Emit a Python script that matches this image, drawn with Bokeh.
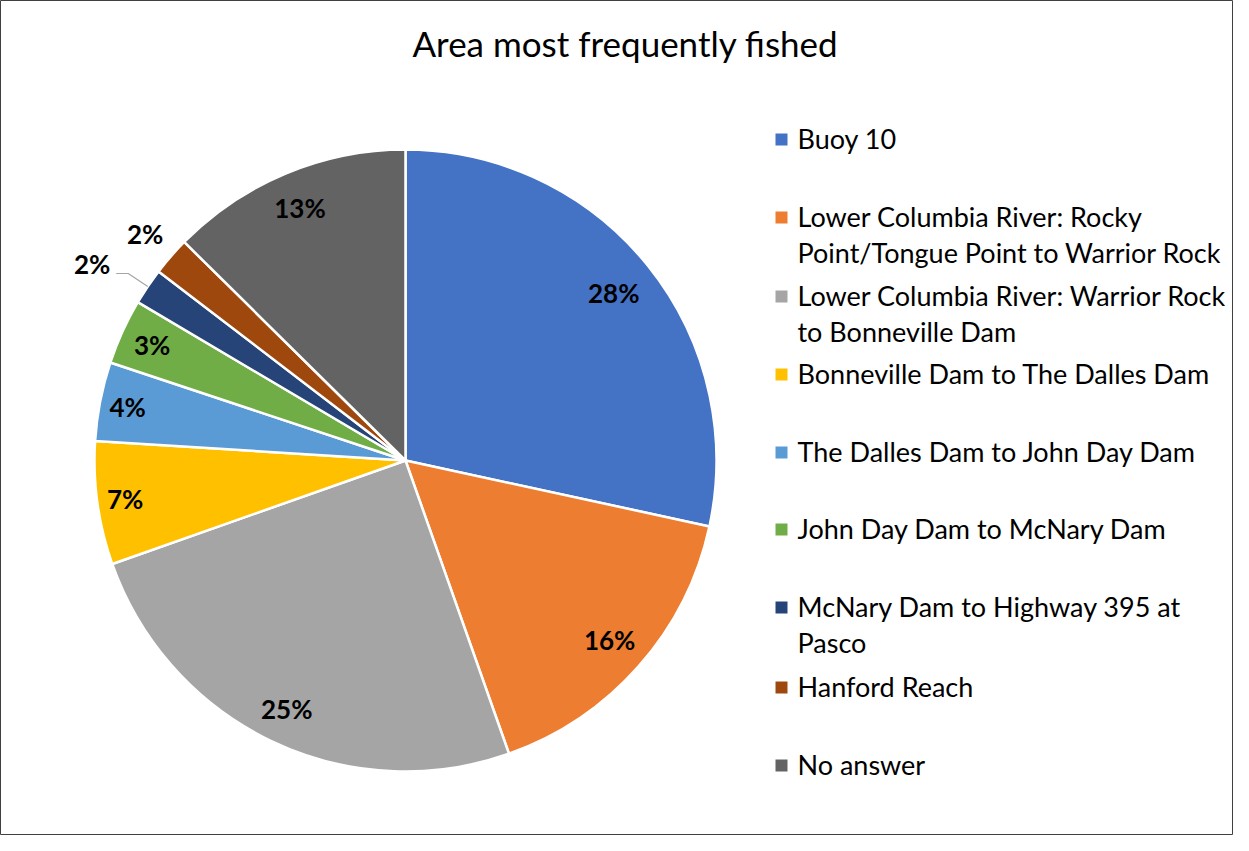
import math
from bokeh.plotting import figure
from bokeh.models import Range1d, ColumnDataSource
from bokeh.core.properties import value
from bokeh.embed import file_html
from bokeh.resources import INLINE

# ---- data ----
categories = [
    "Buoy 10",
    "Lower Columbia River: Rocky\nPoint/Tongue Point to Warrior Rock",
    "Lower Columbia River: Warrior Rock\nto Bonneville Dam",
    "Bonneville Dam to The Dalles Dam",
    "The Dalles Dam to John Day Dam",
    "John Day Dam to McNary Dam",
    "McNary Dam to Highway 395 at\nPasco",
    "Hanford Reach",
    "No answer",
]
shares = [28.4, 16.2, 25.0, 6.4, 4.1, 3.4, 1.9, 2.0, 12.6]
labels = ["28%", "16%", "25%", "7%", "4%", "3%", "2%", "2%", "13%"]
colors = ["#4472C4", "#ED7D31", "#A5A5A5", "#FFC000", "#5B9BD5",
          "#70AD47", "#264478", "#9E480E", "#636363"]
title = "Area most frequently fished"

# ---- layout (pixels) ----
W, H = 1233, 835
FONT = "Lato"
cx, cy, R = 405, 835 - 460, 311
label_r = [0.86, 0.875, 0.885, 0.91, 0.91, 0.895, 1.18, 1.11, 0.88]
legend_first_y = [138, 216, 295, 373, 451, 528, 606, 686, 764]  # picture y of first line
legend_line_gap = 36

def py(pic_y):
    return H - pic_y

p = figure(width=W, height=H, output_backend="svg", toolbar_location=None,
           x_range=Range1d(0, W), y_range=Range1d(0, H), min_border=0)
p.axis.visible = False
p.grid.visible = False
p.outline_line_color = "#404040"
p.outline_line_width = 1
p.background_fill_color = "white"

total = sum(shares)
starts, ends, mids = [], [], []
c = 0.0
for s in shares:
    a0 = math.pi / 2 - 2 * math.pi * c / total
    c += s
    a1 = math.pi / 2 - 2 * math.pi * c / total
    starts.append(a0); ends.append(a1); mids.append((a0 + a1) / 2)

src = ColumnDataSource(dict(start=starts, end=ends, color=colors))
p.wedge(x=cx, y=cy, radius=R, start_angle="start", end_angle="end",
        direction="clock", fill_color="color", line_color="white",
        line_width=2.5, source=src)

lx = [cx + R * f * math.cos(m) for f, m in zip(label_r, mids)]
ly = [cy + R * f * math.sin(m) for f, m in zip(label_r, mids)]

# leader line for the small navy slice; its label sits at the end of the line
i = 6
ex = cx + R * math.cos(mids[i]); ey = cy + R * math.sin(mids[i])
leader_x = [ex, ex - 19.5, ex - 31.5]
leader_y = [ey, ey + 13, ey + 13]
p.line(x=leader_x, y=leader_y, line_color="#A6A6A6", line_width=1.2)
lx[i] = leader_x[-1] - 24
ly[i] = leader_y[-1] + 10

p.text(x=lx, y=ly, text=labels, text_font=value(FONT), text_font_style="bold",
       text_font_size="26px", text_align="center", text_baseline="middle",
       text_color="black")

# title
p.text(x=[625], y=[py(42)], text=[title], text_font=value(FONT),
       text_font_size="35px", text_align="center", text_baseline="middle",
       text_color="black")

# legend
mx, my, tx, ty, tt = [], [], [], [], []
for cat, y0 in zip(categories, legend_first_y):
    mx.append(781); my.append(py(y0 + 1))
    for k, line in enumerate(cat.split("\n")):
        tx.append(797); ty.append(py(y0 + k * legend_line_gap)); tt.append(line)
p.scatter(x=mx, y=my, marker="square", size=12, fill_color=colors, line_color=None)
p.text(x=tx, y=ty, text=tt, text_font=value(FONT), text_font_size="27px",
       text_align="left", text_baseline="middle", text_color="black")

open("out.html", "w").write(file_html(p, INLINE))
